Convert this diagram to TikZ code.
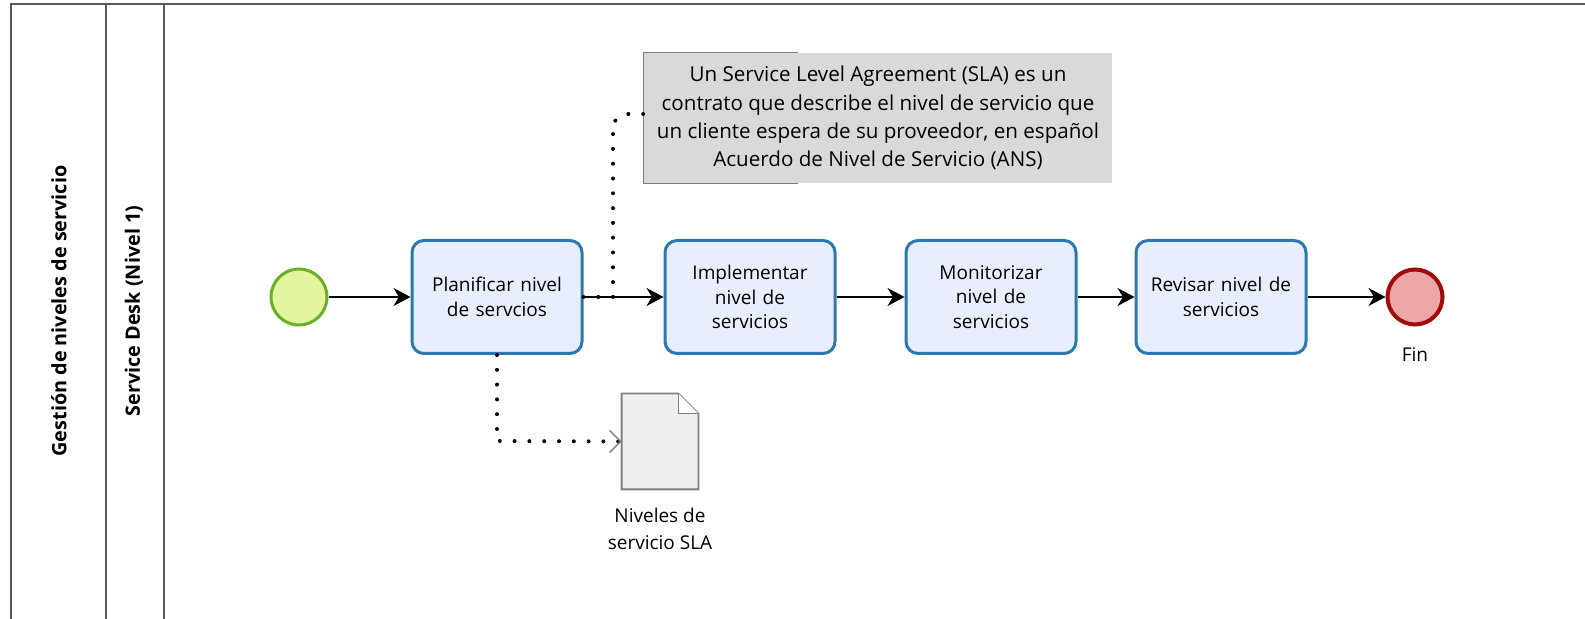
\documentclass[tikz,border=0pt]{standalone}
\usepackage{fontspec}
\setmainfont{Open Sans}
\usetikzlibrary{positioning,calc,arrows.meta}

\definecolor{taskfill}{HTML}{E9EEFC}
\definecolor{taskline}{HTML}{2B79AE}
\definecolor{startfill}{HTML}{E3F59E}
\definecolor{startline}{HTML}{6AAF24}
\definecolor{endfill}{HTML}{ECA6A6}
\definecolor{endline}{HTML}{A10B0B}
\definecolor{notefill}{HTML}{D9D9D9}
\definecolor{docfill}{HTML}{EFEFEF}
\definecolor{docline}{HTML}{808080}

\begin{document}
\begin{tikzpicture}
  [x=0.5pt,y=-0.5pt,
   taskN/.style={rectangle,rounded corners=6pt,draw=taskline,fill=taskfill,line width=1.5pt,
     minimum width=85pt,minimum height=56.5pt,text width=78pt,align=center,
     font=\fontsize{9.5}{12.3}\selectfont},
   startN/.style={circle,draw=startline,fill=startfill,line width=1.5pt,minimum size=28pt},
   endN/.style={circle,draw=endline,fill=endfill,line width=2pt,minimum size=27.5pt},
   laneL/.style={draw=black!65,line width=1.1pt},
   laneT/.style={rotate=90,font=\bfseries\fontsize{9.9}{12}\selectfont},
   flowA/.style={-{Stealth[length=8.5pt,width=9pt,inset=2.7pt]},line width=0.7pt},
   assocA/.style={line width=2pt,dash pattern=on 0pt off 7.4pt,line cap=round},
   plainT/.style={align=center,font=\fontsize{9.5}{13.3}\selectfont}]

  \useasboundingbox (0,0) rectangle (1585,619);

  % pool and lane
  \draw[laneL] (11,619) -- (11,4) -- (1585,4);
  \draw[laneL] (106,4) -- (106,619);
  \draw[laneL] (164,4) -- (164,619);
  \node[laneT] (pool) at (59,311) {Gestión de niveles de servicio};
  \node[laneT] (lane) at (134,311) {Service Desk (Nivel 1)};

  % flow
  \node[startN] (start) at (299,297) {};
  \node[taskN] (plan) [right=41pt of start] {Planificar nivel\\de servcios};
  \node[taskN] (impl) [right=40pt of plan] {Implementar\\nivel de\\servicios};
  \node[taskN] (moni) [right=34pt of impl] {Monitorizar\\nivel de\\servicios};
  \node[taskN] (revi) [right=28.5pt of moni] {Revisar nivel de\\servicios};
  \node[endN] (fin) [right=39pt of revi] {};
  \node[plainT] (finL) [below=7pt of fin] {Fin};

  \draw[flowA] (start) -- (plan);
  \draw[flowA] (plan) -- (impl);
  \draw[flowA] (impl) -- (moni);
  \draw[flowA] (moni) -- (revi);
  \draw[flowA] (revi) -- (fin);

  % annotation
  \node[fill=notefill,minimum width=234pt,minimum height=65pt,plainT,
    font=\fontsize{10.3}{14.1}\selectfont] (note) at (878,118)
    {Un Service Level Agreement (SLA) es un\\
     contrato que describe el nivel de servicio que\\
     un cliente espera de su proveedor, en español\\
     Acuerdo de Nivel de Servicio (ANS)};
  \draw[docline,line width=0.8pt] ($(note.north west)+(154,0)$) -- (note.north west)
    -- (note.south west) -- ++(154,0);
  \draw[assocA] (plan.east) -- (613,297) -- (613,122) -- (627,114) -- (note.west |- 0,114);

  % data object
  \node[minimum width=38pt,minimum height=47.5pt] (doc) at (660,441.5) {};
  \draw[docline,fill=docfill,line width=0.9pt] (doc.north west) -- ($(doc.north east)+(-20,0)$)
    -- ($(doc.north east)+(0,20)$) -- (doc.south east) -- (doc.south west) -- cycle;
  \draw[docline,fill=white,line width=0.9pt] ($(doc.north east)+(-20,0)$) |- ($(doc.north east)+(0,20)$);
  \node[plainT] (docL) [below=6pt of doc] {Niveles de\\servicio SLA};
  \draw[assocA,-{Straight Barb[length=5.5pt,width=11pt,color=gray,line width=0.7pt]}]
    (plan.south) -- (plan.south |- 0,441) -- (doc.west);
\end{tikzpicture}
\end{document}
